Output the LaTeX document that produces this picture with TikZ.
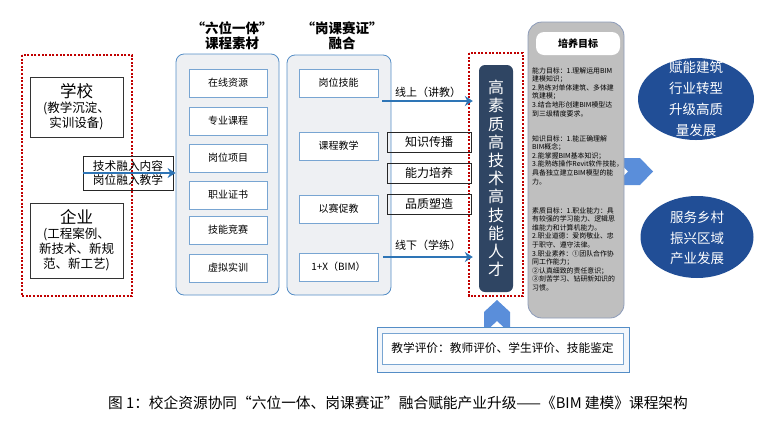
\documentclass[tikz,border=0pt]{standalone}
\usepackage{fontspec}
\setmainfont{Noto Sans CJK SC}
\usepackage{xcolor}
\usetikzlibrary{arrows.meta,positioning,calc,shapes.geometric}
\definecolor{framered}{RGB}{192,0,0}
\definecolor{panelline}{RGB}{84,141,198}
\definecolor{panelfill}{RGB}{238,240,243}
\definecolor{boxline}{RGB}{120,165,210}
\definecolor{flowblue}{RGB}{46,117,182}
\definecolor{talentnavy}{RGB}{47,69,99}
\definecolor{chevblue}{RGB}{90,142,218}
\definecolor{goalgrey}{RGB}{191,191,191}
\definecolor{goalline}{RGB}{140,155,185}
\definecolor{ovalblue}{RGB}{33,78,150}
\definecolor{evalfill}{RGB}{242,246,251}

\begin{document}
\begin{tikzpicture}[x=1pt, y=-1pt, every node/.style={inner sep=0pt, align=center},
  redframe/.style={draw=framered, line width=2pt, dash pattern=on 2pt off 1.6pt},
  srcbox/.style={draw=black!80, fill=white, line width=0.6pt, minimum width=93pt, font=\fontsize{12.5}{15}\selectfont},
  panel/.style={draw=panelline, fill=panelfill, line width=0.8pt, rounded corners=8pt},
  itembox/.style={draw=boxline, fill=white, line width=0.8pt, minimum height=28pt, font=\fontsize{10}{12}\selectfont},
  headline/.style={font=\bfseries\fontsize{13.5}{15}\selectfont},
  qualbox/.style={draw=black!85, line width=0.6pt, minimum width=84pt, minimum height=20pt, font=\fontsize{12}{14}\selectfont},
  flow/.style={draw=flowblue, line width=2.4pt, -{Stealth[length=8pt,width=10pt]}},
  flowlabel/.style={font=\fontsize{11}{13}\selectfont},
  goaltext/.style={anchor=north west, align=left, font=\fontsize{6.9}{8.6}\selectfont},
  oval/.style={ellipse, fill=ovalblue, minimum width=116pt, minimum height=82pt},
  ovaltext/.style={text=white, font=\fontsize{13.5}{20.8}\selectfont}]

\useasboundingbox (0,0) rectangle (763,424);

% school and enterprise
\draw[redframe] (22,55) rectangle (132,296);
\node[srcbox, minimum height=60pt] (school) at (76.5,107) {{\fontsize{16.5}{18}\selectfont 学校}\\(教学沉淀、\\实训设备)};
\node[srcbox, minimum height=75pt] (firm) at (76.5,240.5) {{\fontsize{16.5}{18}\selectfont 企业}\\(工程案例、\\新技术、新规\\范、新工艺)};
\node[draw=black!85, line width=0.8pt, minimum width=90pt, minimum height=34pt, font=\fontsize{11.7}{14}\selectfont] (merge) at (128,173) {技术融入内容\\岗位融入教学};

% two panels
\node[panel, minimum width=103pt, minimum height=241pt] (mat) at (227.5,174.5) {};
\node[headline] (mathead) at (232,36) {“六位一体”\\课程素材};
\foreach \i/\y/\lab in {1/83/在线资源, 2/121/专业课程, 3/158/岗位项目, 4/195/职业证书, 5/230/技能竞赛, 6/268/虚拟实训}
  \node[itembox, minimum width=78pt] (m\i) at (228,\y) {\lab};

\node[panel, minimum width=104pt, minimum height=240pt] (fus) at (339,175) {};
\node[headline] (fushead) at (342,36) {“岗课赛证”\\融合};
\foreach \i/\y/\lab in {1/83/岗位技能, 2/146/课程教学, 3/209/以赛促教, 4/267/1+X（BIM）}
  \node[itembox, minimum width=79pt] (f\i) at (338.5,\y) {\lab};

\draw[flow] (merge.west) -- (merge.west -| mat.west);

% talent column
\draw[redframe] (469,53) rectangle (523,296);
\node[fill=talentnavy, rounded corners=6pt, minimum width=34pt, minimum height=227pt, text=white, font=\fontsize{16}{18.2}\selectfont] (talent) at (496,178.5) {高\\素\\质\\高\\技\\术\\高\\技\\能\\人\\才};

\coordinate (online) at (382,101);
\coordinate (offline) at (383,257);
\draw[flow, shorten >=6pt] (online) -- (online -| talent.west);
\draw[flow, shorten >=6pt] (offline) -- (offline -| talent.west);
\node[flowlabel] (onlab) at (428,92) {线上（讲教）};
\node[flowlabel] (offlab) at (428,245) {线下（学练）};
\foreach \i/\y/\lab in {1/142/知识传播, 2/173/能力培养, 3/204/品质塑造}
  \node[qualbox] (q\i) at (429,\y) {\lab};

% evaluation
\fill[chevblue] (484,333) -- (484,312) -- (497,300) -- (510,312) -- (510,333) -- (497,321) -- cycle;
\node[draw=panelline, fill=evalfill, line width=0.8pt, minimum width=252pt, minimum height=45pt] (evalout) at (503,349.5) {};
\node[draw=boxline, fill=white, line width=0.6pt, minimum width=241pt, minimum height=31pt, font=\fontsize{11.7}{14}\selectfont] (eval) at (502.5,348.5) {教学评价：教师评价、学生评价、技能鉴定};

% goals
\fill[chevblue] (615,158) -- (640,158) -- (653,171.5) -- (640,185) -- (615,185) -- (628,171.5) -- cycle;
\node[fill=goalgrey, draw=goalline, line width=0.8pt, rounded corners=14pt, minimum width=96pt, minimum height=296pt] (goal) at (576,170) {};
\node[fill=white, rounded corners=8pt, minimum width=84pt, minimum height=23pt, font=\bfseries\fontsize{10}{12}\selectfont] (goaltitle) at (578,43.5) {培养目标};
\node[goaltext] (ability) at (532,67) {能力目标：1.理解运用BIM\\建模知识；\\2.熟练对单体建筑、多体建\\筑建模；\\3.结合地形创建BIM模型达\\到三级精度要求。};
\node[goaltext] (knowledge) at (532,135) {知识目标：1.能正确理解\\BIM概念；\\2.能掌握BIM基本知识；\\3.能熟练操作Revit软件技能，\\具备独立建立BIM模型的能\\力。};
\node[goaltext] (quality) at (532,207) {素质目标：1.职业能力：具\\有较强的学习能力、逻辑思\\维能力和计算机能力。\\2.职业道德：爱岗敬业、忠\\于职守、遵守法律。\\3.职业素养：①团队合作协\\同工作能力；\\②认真细致的责任意识；\\③刻苦学习、钻研新知识的\\习惯。};

\node[oval] (o1) at (696,99) {};
\node[ovaltext] (o1t) at (696,99) {赋能建筑\\行业转型\\升级高质\\量发展};
\node[oval, minimum width=113pt] (o2) at (697,237) {};
\node[ovaltext] (o2t) at (697,238) {服务乡村\\振兴区域\\产业发展};

\node[font=\fontsize{14.7}{16}\selectfont] (cap) at (398,403) {图 1：校企资源协同“六位一体、岗课赛证”融合赋能产业升级——《BIM 建模》课程架构};
\end{tikzpicture}
\end{document}
